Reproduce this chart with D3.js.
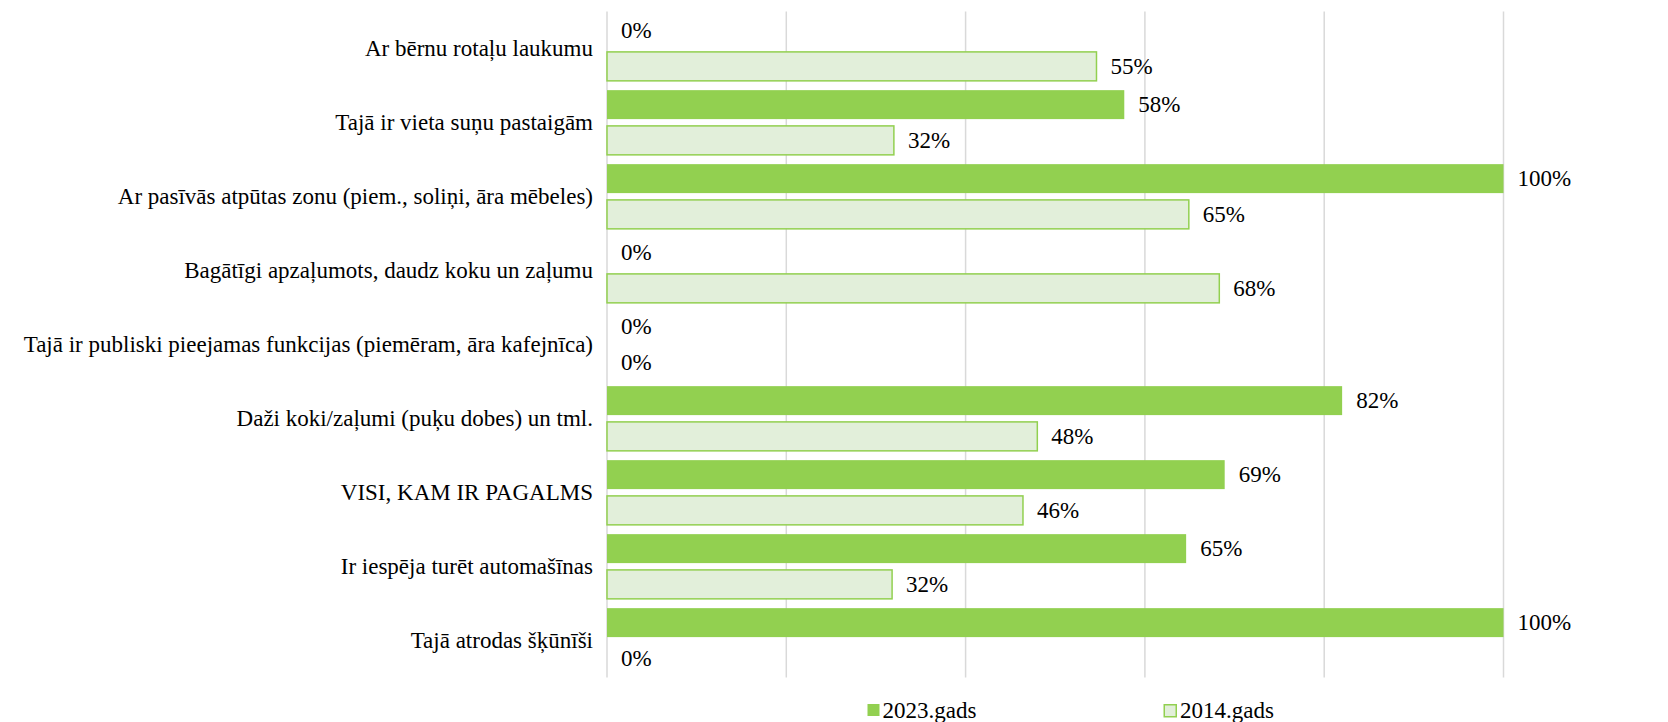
<!DOCTYPE html>
<html>
<head>
<meta charset="utf-8">
<script src="https://cdn.jsdelivr.net/npm/d3@7"></script>
<style>
  html, body { margin: 0; padding: 0; background: #fff; }
  svg text { font-family: "Liberation Serif", "Times New Roman", serif; fill: #000; }
</style>
</head>
<body>
<svg id="chart" width="1668" height="722" font-family="Liberation Serif, Times New Roman, serif"></svg>
<script>
const categories = [
  "Ar bērnu rotaļu laukumu",
  "Tajā ir vieta suņu pastaigām",
  "Ar pasīvās atpūtas zonu (piem., soliņi, āra mēbeles)",
  "Bagātīgi apzaļumots, daudz koku un zaļumu",
  "Tajā ir publiski pieejamas funkcijas (piemēram, āra kafejnīca)",
  "Daži koki/zaļumi (puķu dobes) un tml.",
  "VISI, KAM IR PAGALMS",
  "Ir iespēja turēt automašīnas",
  "Tajā atrodas šķūnīši"
];
const seriesNames = ["2023.gads", "2014.gads"];
const values2023 = [0, 57.7, 100, 0, 0, 82.0, 68.9, 64.6, 100];
const values2014 = [54.6, 32.0, 64.9, 68.3, 0, 48.0, 46.4, 31.8, 0];
const xTicks = [0, 20, 40, 60, 80, 100];

const seriesValues = [values2023, values2014];
const data = categories.map((c, i) => ({
  category: c,
  vals: seriesNames.map((s, j) => ({ series: s, value: seriesValues[j][i] }))
}));

const svg = d3.select("#chart");
const plotLeft = 607, plotRight = 1503.5, plotTop = 11.5, plotBottom = 677.5;

const x = d3.scaleLinear().domain([0, 100]).range([plotLeft, plotRight]);
const y0 = d3.scaleBand().domain(categories).range([plotTop, plotBottom]).padding(0);
const y1 = d3.scaleBand().domain(seriesNames).range([0, y0.bandwidth()])
  .paddingInner(0.19).paddingOuter(0.13);

const fills = { "2023.gads": "#92D050", "2014.gads": "#E2EFDA" };
const strokes = { "2023.gads": "none", "2014.gads": "#92D050" };

// gridlines
svg.append("g")
  .selectAll("line")
  .data(xTicks)
  .join("line")
  .attr("x1", d => x(d)).attr("x2", d => x(d))
  .attr("y1", plotTop).attr("y2", plotBottom)
  .attr("stroke", "#D9D9D9")
  .attr("stroke-width", 1.5);

// category labels
svg.append("g")
  .selectAll("text")
  .data(categories)
  .join("text")
  .attr("x", plotLeft - 14)
  .attr("y", d => y0(d) + y0.bandwidth() / 2)
  .attr("text-anchor", "end")
  .attr("dominant-baseline", "central")
  .style("font-size", "23px")
  .text(d => d);

// bars
const groups = svg.append("g")
  .selectAll("g")
  .data(data)
  .join("g")
  .attr("transform", d => `translate(0,${y0(d.category)})`);

groups.selectAll("rect")
  .data(d => d.vals.filter(v => v.value > 0))
  .join("rect")
  .attr("x", x(0))
  .attr("y", d => y1(d.series))
  .attr("width", d => x(d.value) - x(0))
  .attr("height", y1.bandwidth())
  .attr("fill", d => fills[d.series])
  .attr("stroke", d => strokes[d.series])
  .attr("stroke-width", 1.5);

groups.selectAll("text")
  .data(d => d.vals)
  .join("text")
  .attr("x", d => x(d.value) + 14)
  .attr("y", d => y1(d.series) + y1.bandwidth() / 2)
  .attr("dominant-baseline", "central")
  .style("font-size", "23px")
  .text(d => d3.format(".0f")(d.value) + "%");

// legend
const legendX = [867.5, 1163.5];
const legend = svg.append("g")
  .selectAll("g")
  .data(seriesNames)
  .join("g")
  .attr("transform", (d, i) => `translate(${legendX[i]},704)`);

legend.append("rect")
  .attr("x", d => d === "2014.gads" ? 0.75 : 0)
  .attr("y", d => d === "2014.gads" ? 0.75 : 0)
  .attr("width", 12)
  .attr("height", 12)
  .attr("fill", d => fills[d])
  .attr("stroke", d => strokes[d])
  .attr("stroke-width", 1.5);

legend.append("text")
  .attr("x", d => d === "2014.gads" ? 16.5 : 15)
  .attr("y", 13.5)
  .style("font-size", "23px")
  .text(d => d);
</script>
</body>
</html>
